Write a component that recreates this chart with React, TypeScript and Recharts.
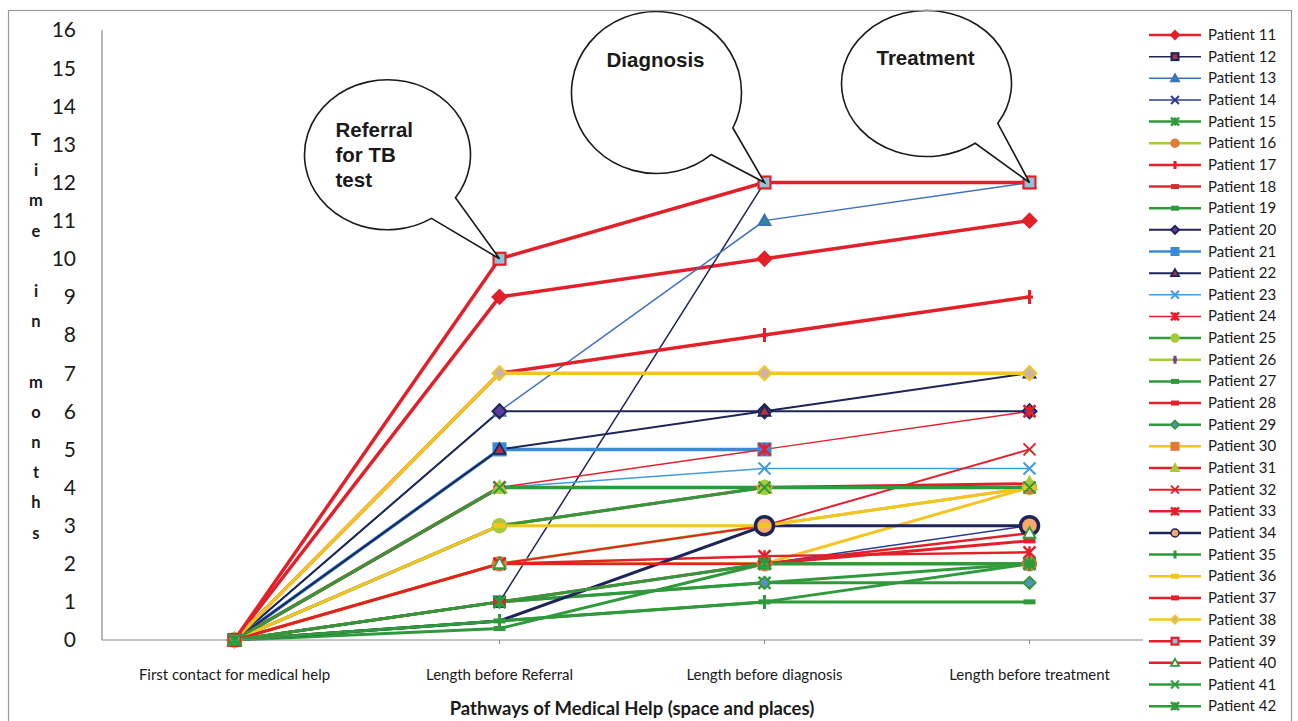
import React from 'react'
import { LineChart, Line, XAxis, YAxis, ReferenceDot } from 'recharts'

const stages = [
  'First contact for medical help',
  'Length before Referral',
  'Length before diagnosis',
  'Length before treatment',
]
const monthTicks = [0, 1, 2, 3, 4, 5, 6, 7, 8, 9, 10, 11, 12, 13, 14, 15, 16]

// months at each stage
const p11 = [0, 9, 10, 11]
const p12 = [0, 1, 12, 12]
const p13 = [0, 6, 11, 12]
const p14 = [0, 1, 2, 3]
const p15 = [0, 1, 1.5, 2]
const p16 = [0, 2, 2, 2]
const p17 = [0, 7, 8, 9]
const p18 = [0, 3, 4, 4]
const p19 = [0, 0.3, 2, 2]
const p20 = [0, 6, 6, 6]
const p21 = [0, 5, 5, null]
const p22 = [0, 5, 6, 7]
const p23 = [0, 4, 4.5, 4.5]
const p24 = [0, 4, 5, 6]
const p25 = [0, 3, 4, 4]
const p26 = [0, 2, 3, 4]
const p27 = [0, 0.5, 1, 1]
const p28 = [0, 4, 4, 4]
const p29 = [0, 1, 1.5, 1.5]
const p30 = [0, 2, 2, 4]
const p31 = [0, 4, 4, 4.1]
const p32 = [0, 2, 3, 5]
const p33 = [0, 2, 2.2, 2.3]
const p34 = [0, 0.5, 3, 3]
const p35 = [0, 0.5, 1, 2]
const p36 = [0, 3, 3, 4]
const p37 = [0, 1, 2, 2.6]
const p38 = [0, 7, 7, 7]
const p39 = [0, 10, 12, 12]
const p40 = [0, 2, 2, 2.8]
const p41 = [0, 4, 4, 4]
const p42 = [0, 1, 2, 2]

const RED = '#e3202a'
const NAVY = '#1d2558'
const BLUE = '#3b6fc2'
const SKY = '#3f9be0'
const GREEN = '#2f9a3b'
const LIME = '#a5cb3a'
const YELLOW = '#f4c51e'
const ORANGE = '#e07a3a'

type Shape = 'diamond' | 'square' | 'triangle' | 'x' | 'star' | 'circle' | 'plus' | 'dash'

interface Series {
  key: string
  values: (number | null)[]
  color: string
  shape: Shape
  fill: string
  edge: string
  width: number
  r?: number
  noMarkerAt?: number[]
}

const series: Series[] = [
  { key: 'Patient 11', values: p11, color: RED, shape: 'diamond', fill: RED, edge: RED, width: 3.5, r: 7 },
  { key: 'Patient 12', values: p12, color: NAVY, shape: 'square', fill: '#b03044', edge: NAVY, width: 1.5 },
  { key: 'Patient 13', values: p13, color: BLUE, shape: 'triangle', fill: '#2c8a8f', edge: BLUE, width: 1.5 },
  { key: 'Patient 14', values: p14, color: '#2a3c91', shape: 'x', fill: 'none', edge: '#2a3c91', width: 1.5 },
  { key: 'Patient 15', values: p15, color: GREEN, shape: 'star', fill: 'none', edge: GREEN, width: 3 },
  { key: 'Patient 16', values: p16, color: LIME, shape: 'circle', fill: ORANGE, edge: ORANGE, width: 3, r: 7 },
  { key: 'Patient 17', values: p17, color: RED, shape: 'plus', fill: 'none', edge: RED, width: 3.5, r: 7 },
  { key: 'Patient 18', values: p18, color: '#d03030', shape: 'dash', fill: '#d03030', edge: '#d03030', width: 3 },
  { key: 'Patient 19', values: p19, color: GREEN, shape: 'dash', fill: GREEN, edge: GREEN, width: 3 },
  { key: 'Patient 20', values: p20, color: NAVY, shape: 'diamond', fill: '#5b3f9a', edge: NAVY, width: 2, r: 7 },
  { key: 'Patient 21', values: p21, color: '#3a8ad6', shape: 'square', fill: '#3a8ad6', edge: '#3a8ad6', width: 3.5, r: 7 },
  { key: 'Patient 22', values: p22, color: NAVY, shape: 'triangle', fill: '#b03044', edge: NAVY, width: 2 },
  { key: 'Patient 23', values: p23, color: SKY, shape: 'x', fill: 'none', edge: SKY, width: 1.5 },
  { key: 'Patient 24', values: p24, color: RED, shape: 'star', fill: 'none', edge: RED, width: 1.5 },
  { key: 'Patient 25', values: p25, color: GREEN, shape: 'circle', fill: LIME, edge: LIME, width: 3, r: 7 },
  { key: 'Patient 26', values: p26, color: LIME, shape: 'plus', fill: 'none', edge: '#7b3fa0', width: 3 },
  { key: 'Patient 27', values: p27, color: GREEN, shape: 'dash', fill: GREEN, edge: GREEN, width: 3 },
  { key: 'Patient 28', values: p28, color: RED, shape: 'dash', fill: RED, edge: RED, width: 3.5 },
  { key: 'Patient 29', values: p29, color: GREEN, shape: 'diamond', fill: '#5b8fc4', edge: GREEN, width: 3 },
  { key: 'Patient 30', values: p30, color: YELLOW, shape: 'square', fill: ORANGE, edge: ORANGE, width: 3 },
  { key: 'Patient 31', values: p31, color: RED, shape: 'triangle', fill: LIME, edge: LIME, width: 3, r: 7 },
  { key: 'Patient 32', values: p32, color: RED, shape: 'x', fill: 'none', edge: RED, width: 2 },
  { key: 'Patient 33', values: p33, color: RED, shape: 'star', fill: 'none', edge: RED, width: 2.5 },
  { key: 'Patient 34', values: p34, color: NAVY, shape: 'circle', fill: '#f3a96b', edge: NAVY, width: 3, r: 9, noMarkerAt: [0, 1] },
  { key: 'Patient 35', values: p35, color: GREEN, shape: 'plus', fill: 'none', edge: GREEN, width: 3, r: 7 },
  { key: 'Patient 36', values: p36, color: YELLOW, shape: 'dash', fill: YELLOW, edge: YELLOW, width: 3 },
  { key: 'Patient 37', values: p37, color: RED, shape: 'dash', fill: RED, edge: RED, width: 3 },
  { key: 'Patient 38', values: p38, color: YELLOW, shape: 'diamond', fill: '#c8b4a8', edge: YELLOW, width: 3.5, r: 7 },
  { key: 'Patient 39', values: p39, color: RED, shape: 'square', fill: '#8fc3d9', edge: RED, width: 3.5, r: 7 },
  { key: 'Patient 40', values: p40, color: RED, shape: 'triangle', fill: '#ffffff', edge: GREEN, width: 2.5 },
  { key: 'Patient 41', values: p41, color: GREEN, shape: 'x', fill: 'none', edge: GREEN, width: 3 },
  { key: 'Patient 42', values: p42, color: GREEN, shape: 'star', fill: 'none', edge: GREEN, width: 3 },
]

const data = stages.map((stage, i) => {
  const row: Record<string, string | number | null> = { stage }
  series.forEach((s) => (row[s.key] = s.values[i]))
  return row
})

function Marker({ shape, x, y, fill, edge, r }: { shape: Shape; x: number; y: number; fill: string; edge: string; r: number }) {
  switch (shape) {
    case 'diamond':
      return <path d={`M${x},${y - r}L${x + r},${y}L${x},${y + r}L${x - r},${y}Z`} fill={fill} stroke={edge} strokeWidth={2} />
    case 'square':
      return <rect x={x - r * 0.85} y={y - r * 0.85} width={r * 1.7} height={r * 1.7} fill={fill} stroke={edge} strokeWidth={2.2} />
    case 'triangle':
      return <path d={`M${x},${y - r}L${x + r},${y + r * 0.75}L${x - r},${y + r * 0.75}Z`} fill={fill} stroke={edge} strokeWidth={1.8} />
    case 'circle':
      return <circle cx={x} cy={y} r={r} fill={fill} stroke={edge} strokeWidth={r > 8 ? 3.5 : 1.5} />
    case 'x':
      return <path d={`M${x - r},${y - r}L${x + r},${y + r}M${x + r},${y - r}L${x - r},${y + r}`} stroke={edge} strokeWidth={2} fill="none" />
    case 'star':
      return (
        <path
          d={`M${x - r},${y - r}L${x + r},${y + r}M${x + r},${y - r}L${x - r},${y + r}M${x},${y - r}L${x},${y + r}`}
          stroke={edge}
          strokeWidth={2.5}
          fill="none"
        />
      )
    case 'plus':
      return <path d={`M${x},${y - r}L${x},${y + r}M${x - r * 0.5},${y}L${x + r * 0.5},${y}`} stroke={edge} strokeWidth={3} fill="none" />
    case 'dash':
      return <rect x={x - r} y={y - 2.5} width={r * 2} height={5} fill={fill} />
    default:
      return null
  }
}

function renderDot(s: Series) {
  return (props: any) => {
    const { cx, cy, index } = props
    const k = `${s.key}-${index}`
    if (cx == null || cy == null || props.value == null || s.noMarkerAt?.includes(index)) return <g key={k} />
    return (
      <g key={k}>
        <Marker shape={s.shape} x={cx} y={cy} fill={s.fill} edge={s.edge} r={s.r ?? 6} />
      </g>
    )
  }
}

// speech bubble whose tail tip sits on the reference point
function bubble(dx: number, dy: number, rx: number, ry: number, a1: number, a2: number, lines: string[], tx: number, ty: number, anchor: 'start' | 'middle') {
  return (props: any) => {
    const { cx, cy } = props
    if (cx == null || cy == null) return <g />
    const ex = cx + dx
    const ey = cy + dy
    const rad = Math.PI / 180
    const ax = ex + rx * Math.cos(a1 * rad)
    const ay = ey + ry * Math.sin(a1 * rad)
    const bx = ex + rx * Math.cos(a2 * rad)
    const by = ey + ry * Math.sin(a2 * rad)
    const d = `M${ax},${ay}L${cx},${cy}L${bx},${by}A${rx},${ry} 0 1 1 ${ax},${ay}Z`
    return (
      <g>
        <path d={d} fill="#ffffff" stroke="#1a1a1a" strokeWidth={1.6} />
        {lines.map((t, i) => (
          <text
            key={t}
            x={cx + tx}
            y={cy + ty + i * 25}
            textAnchor={anchor}
            fontFamily="'Liberation Sans', Arial, sans-serif"
            fontWeight="bold"
            fontSize={20.5}
            fill="#1a1a1a"
          >
            {t}
          </text>
        ))}
      </g>
    )
  }
}

const yLabel = ['T', 'i', 'm', 'e', '', 'i', 'n', '', 'm', 'o', 'n', 't', 'h', 's']

export default function App() {
  return (
    <div style={{ position: 'absolute', left: 0, top: 0, width: 1298, height: 721, background: '#ffffff', overflow: 'hidden' }}>
      <LineChart width={1298} height={721} data={data} margin={{ top: 30, right: 136, left: 0, bottom: 0 }}>
        <XAxis
          dataKey="stage"
          height={81}
          padding={{ left: 132.5, right: 132.5 }}
          axisLine={{ stroke: '#8a8a8a', strokeWidth: 1.2 }}
          tickLine={{ stroke: '#8a8a8a' }}
          tickSize={4}
          tickMargin={25}
          interval={0}
          tick={{ fill: '#1a1a1a', fontSize: 15, fontFamily: 'Lato, sans-serif' }}
          label={{
            value: 'Pathways of Medical Help (space and places)',
            position: 'insideBottom',
            offset: 6,
            fill: '#1a1a1a',
            fontSize: 18.5,
            fontWeight: 'bold',
            fontFamily: 'Lato, sans-serif',
          }}
        />
        <YAxis
          width={102}
          domain={[0, 16]}
          ticks={monthTicks}
          interval={0}
          axisLine={{ stroke: '#8a8a8a', strokeWidth: 1.2 }}
          tickLine={false}
          tickSize={0}
          tickMargin={26}
          tick={{ fill: '#1a1a1a', fontSize: 21, fontFamily: 'Lato, sans-serif' }}
        />
        {series.map((s) => (
          <Line
            key={s.key}
            type="linear"
            dataKey={s.key}
            stroke={s.color}
            strokeWidth={s.width}
            dot={renderDot(s)}
            activeDot={false}
            isAnimationActive={false}
          />
        ))}
        <ReferenceDot
          x={stages[1]}
          y={10}
          r={0}
          shape={bubble(-112, -104, 83, 75, 35, 58, ['Referral', 'for TB', 'test'], -164, -122, 'start')}
        />
        <ReferenceDot x={stages[2]} y={12} r={0} shape={bubble(-108, -90, 85, 81, 26, 50, ['Diagnosis'], -109, -116, 'middle')} />
        <ReferenceDot x={stages[3]} y={12} r={0} shape={bubble(-103, -99, 85, 73, 33, 55, ['Treatment'], -104, -118, 'middle')} />
      </LineChart>

      <svg width={1298} height={721} style={{ position: 'absolute', left: 0, top: 0, pointerEvents: 'none' }}>
        <rect x={1143} y={12} width={146} height={708} fill="#ffffff" />
        <rect x={8.5} y={10.5} width={1283} height={720} fill="none" stroke="#9a9a9a" strokeWidth={1.2} />
        {yLabel.map((c, i) =>
          c ? (
            <text
              key={i}
              x={36}
              y={146 + i * 30.2}
              textAnchor="middle"
              fontFamily="Lato, sans-serif"
              fontWeight="bold"
              fontSize={16.5}
              fill="#1a1a1a"
            >
              {c}
            </text>
          ) : null
        )}
        {series.map((s, i) => {
          const y = 35 + i * 21.65
          return (
            <g key={s.key}>
              <line x1={1149} x2={1201} y1={y} y2={y} stroke={s.color} strokeWidth={Math.min(s.width, 2.5)} />
              <Marker shape={s.shape} x={1175} y={y} fill={s.fill} edge={s.edge} r={4} />
              <text x={1208} y={y + 5} fontFamily="Lato, sans-serif" fontSize={15} fill="#1a1a1a">
                {s.key}
              </text>
            </g>
          )
        })}
      </svg>
    </div>
  )
}
